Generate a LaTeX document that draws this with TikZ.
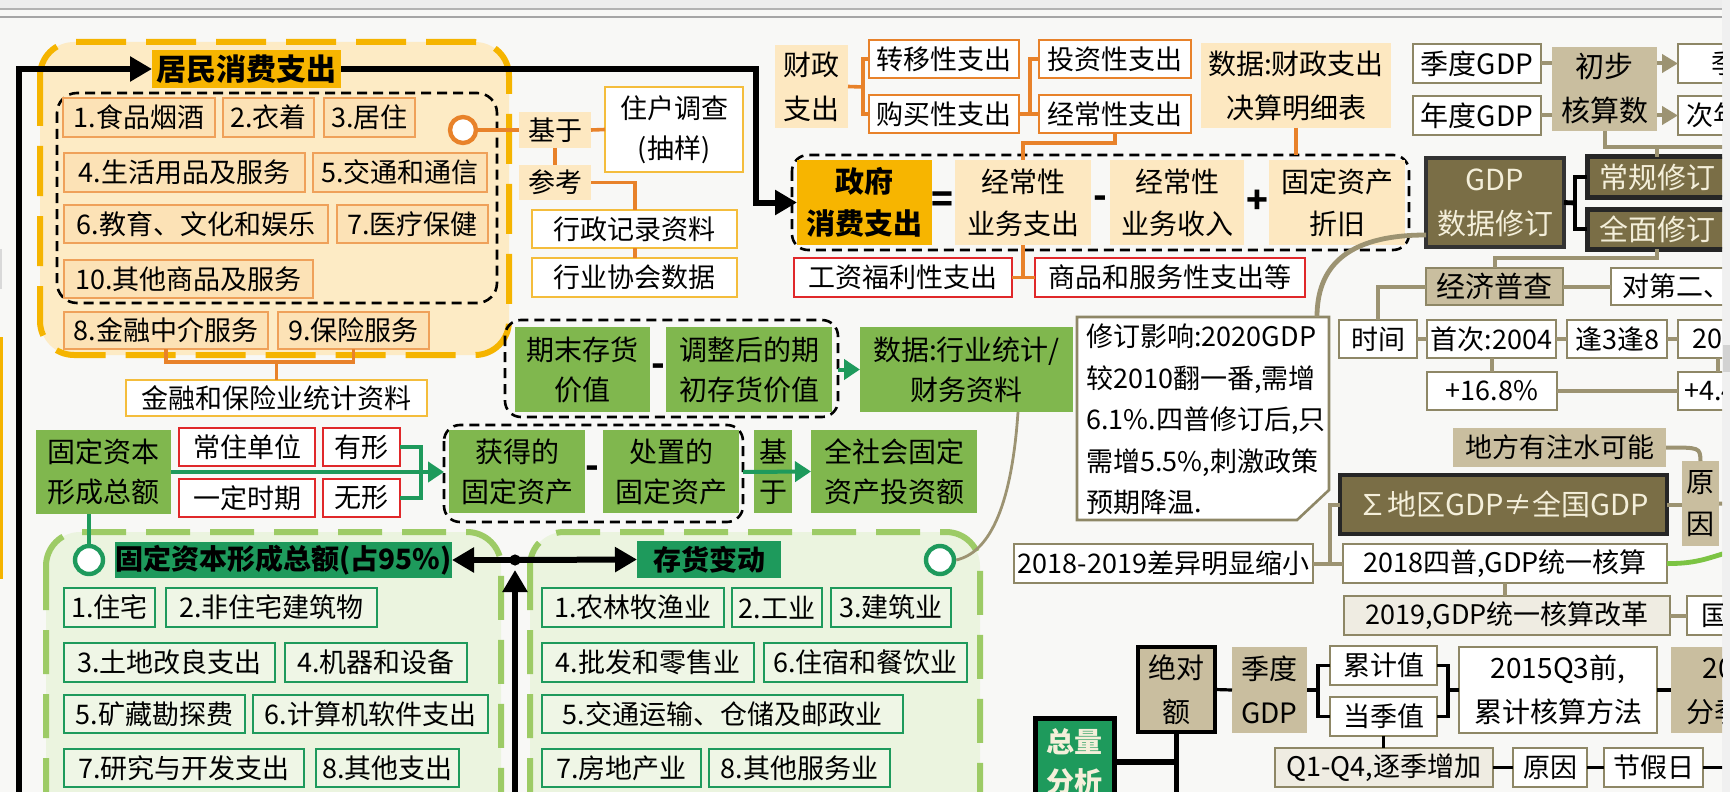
\documentclass[tikz,border=0pt]{standalone}
\usepackage{fontspec}
\setmainfont{Noto Sans CJK SC}
\usetikzlibrary{arrows.meta}
\definecolor{bgc}{HTML}{F8F8F6}
\definecolor{gold}{HTML}{F7B500}
\definecolor{odash}{HTML}{F5B400}
\definecolor{ocfill}{HTML}{FDEBC5}
\definecolor{ofill}{HTML}{FCE2B6}
\definecolor{oline}{HTML}{EFA15A}
\definecolor{oconn}{HTML}{E8822A}
\definecolor{yline}{HTML}{F4BD3C}
\definecolor{pfill}{HTML}{FDE8C1}
\definecolor{rline}{HTML}{E0282A}
\definecolor{gfill}{HTML}{80B74E}
\definecolor{gdash}{HTML}{9DCB66}
\definecolor{gcfill}{HTML}{EBF4DF}
\definecolor{igfill}{HTML}{EFF6E6}
\definecolor{teal1}{HTML}{1E9A5C}
\definecolor{olive1}{HTML}{8E8766}
\definecolor{kconn}{HTML}{9C9372}
\definecolor{tan1}{HTML}{C9BE9F}
\definecolor{ltan}{HTML}{EFECE2}
\definecolor{dolive}{HTML}{7A6E46}
\definecolor{cream}{HTML}{F4EFDA}
\definecolor{lgreen}{HTML}{7CC443}
\newcommand\Bx[7]{\node[#1,minimum width={(#5-#3)*0.5pt},minimum height={(#6-#4)*0.5pt}] (#2) at ({(#3+#5)/2},{(#4+#6)/2}) {#7};}
\tikzset{
 bx/.style={inner sep=0pt,outer sep=0pt,align=center,font=\fontsize{13.5}{20}\selectfont},
 io/.style={bx,fill=ofill,draw=oline,line width=1pt},
 lo/.style={bx,fill=gold,font=\bfseries\fontsize{15}{20}\selectfont},
 wy/.style={bx,fill=white,draw=yline,line width=1.1pt},
 wo/.style={bx,fill=white,draw=oconn,line width=1.2pt},
 po/.style={bx,fill=pfill},
 wr/.style={bx,fill=white,draw=rline,line width=1.2pt},
 gb/.style={bx,fill=gfill,font=\fontsize{14}{20}\selectfont},
 ig/.style={bx,fill=igfill,draw=teal1,line width=1.1pt},
 lg/.style={bx,fill=teal1,font=\bfseries\fontsize{14}{20}\selectfont},
 wk/.style={bx,fill=white,draw=olive1,line width=1.3pt},
 tk/.style={bx,fill=tan1},
 tkb/.style={tk,draw=olive1,line width=1.3pt},
 lk/.style={bx,fill=ltan,draw=olive1,line width=1.3pt},
 dk/.style={bx,fill=dolive,draw=black!85,line width=2.5pt,text=cream,font=\fontsize{14.5}{22}\selectfont},
 cut/.style={anchor=west,inner sep=0pt,font=\fontsize{13.5}{20}\selectfont},
 oc/.style={draw=oconn,line width=1.8pt},
 kc/.style={draw=kconn,line width=2pt},
 bk/.style={draw=black,line width=3pt},
 bt/.style={draw=black,line width=1.6pt},
 gc/.style={draw=teal1,line width=2pt},
 sg/.style={inner sep=0pt,font=\bfseries\fontsize{18}{18}\selectfont},
 kdash/.style={black,line width=1.3pt,dash pattern=on 5pt off 3pt},
 tipB/.style={-{Triangle[length=11pt,width=12pt]}},
 tipG/.style={-{Triangle[length=8pt,width=10pt]}},
 tipO/.style={-{Triangle[length=8pt,width=9pt]}},
}
\begin{document}
\begin{tikzpicture}[x=0.5pt,y=-0.5pt]
\useasboundingbox (0,0) rectangle (1730,792);
\fill[bgc] (0,0) rectangle (1730,792);
\fill[gray!12] (1722,0) rectangle (1730,792);
\fill[gray!35] (1723,345) rectangle (1730,372);
\begin{scope}
\clip (0,0) rectangle (1722,792);
\fill[gray!14] (0,0) rectangle (1722,9);
\draw[gray!60,line width=0.6pt] (0,9) -- (1722,9);
\draw[gray!70,line width=0.6pt] (0,17) -- (1722,17);
\fill[odash] (0,337) rectangle (3,579);
\fill[gray!30] (0,249) rectangle (2,289);
% containers
\draw[draw=odash,fill=ocfill,line width=3pt,dash pattern=on 25pt off 10pt,rounded corners=17pt] (40,42) rectangle (509,355);
\draw[kdash,rounded corners=10pt] (57,93) rectangle (497,303);
\draw[draw=gdash,fill=gcfill,line width=3pt,dash pattern=on 22pt off 10pt,rounded corners=17pt] (46,532) rectangle (501,860);
\draw[draw=gdash,fill=gcfill,line width=3pt,dash pattern=on 22pt off 10pt,rounded corners=17pt] (530,532) rectangle (980,860);
\draw[kdash,rounded corners=8pt] (792,155) rectangle (1409,250);
\draw[kdash,rounded corners=8pt] (505,320) rectangle (838,417);
\draw[kdash,rounded corners=8pt] (444,425) rectangle (743,522);
% household consumption
\Bx{lo}{jm}{152}{50}{341}{88}{居民消费支出}
\Bx{io}{a1}{63}{98}{215}{137}{1.食品烟酒}
\Bx{io}{a2}{223}{98}{314}{137}{2.衣着}
\Bx{io}{a3}{324}{98}{415}{137}{3.居住}
\Bx{io}{a4}{64}{153}{305}{192}{4.生活用品及服务}
\Bx{io}{a5}{313}{153}{487}{192}{5.交通和通信}
\Bx{io}{a6}{64}{205}{328}{243}{6.教育、文化和娱乐}
\Bx{io}{a7}{337}{205}{488}{243}{7.医疗保健}
\Bx{io}{a10}{64}{260}{313}{298}{10.其他商品及服务}
\Bx{io}{a8}{64}{312}{268}{349}{8.金融中介服务}
\Bx{io}{a9}{278}{312}{429}{349}{9.保险服务}
\Bx{wy}{jr}{126}{380}{427}{416}{金融和保险业统计资料}
\node[circle,draw=oconn,line width=2.2pt,fill=white,minimum size=13pt,inner sep=0pt] (oC) at (463,130) {};
\Bx{po}{jy}{519}{112}{591}{148}{基于}
\Bx{po}{ck}{519}{165}{591}{200}{参考}
\Bx{wy}{zh}{605}{87}{743}{172}{住户调查\\(抽样)}
\Bx{wy}{xz}{532}{210}{737}{248}{行政记录资料}
\Bx{wy}{hy}{532}{258}{737}{297}{行业协会数据}
% fiscal
\Bx{po,font=\fontsize{14}{22}\selectfont}{cz}{775}{45}{848}{128}{财政\\支出}
\Bx{wo}{zy}{869}{40}{1019}{78}{转移性支出}
\Bx{wo}{gm}{869}{95}{1019}{133}{购买性支出}
\Bx{wo}{tz}{1039}{40}{1191}{78}{投资性支出}
\Bx{wo}{jc}{1039}{95}{1191}{133}{经常性支出}
\Bx{po,font=\fontsize{14}{22}\selectfont}{sj}{1201}{43}{1391}{128}{数据:财政支出\\决算明细表}
\Bx{lo,font=\bfseries\fontsize{14.5}{21}\selectfont}{zf}{797}{160}{932}{245}{政府\\消费支出}
\node[sg] (s1) at (942,202) {=};
\Bx{po,font=\fontsize{14}{21}\selectfont}{jyz}{955}{160}{1091}{245}{经常性\\业务支出}
\node[sg] (s2) at (1100,202) {-};
\Bx{po,font=\fontsize{14}{21}\selectfont}{jys}{1110}{160}{1244}{245}{经常性\\业务收入}
\node[sg] (s3) at (1257,202) {+};
\Bx{po,font=\fontsize{14}{21}\selectfont}{gzj}{1269}{160}{1405}{245}{固定资产\\折旧}
\Bx{wr}{gz}{794}{258}{1012}{297}{工资福利性支出}
\Bx{wr}{sp}{1035}{258}{1305}{297}{商品和服务性支出等}
% inventory & fixed capital
\Bx{gb}{qm}{515}{327}{650}{412}{期末存货\\价值}
\node[sg] (s4) at (658,370) {-};
\Bx{gb}{tq}{666}{327}{832}{412}{调整后的期\\初存货价值}
\Bx{gb}{sjh}{860}{327}{1073}{412}{数据:行业统计/\\财务资料}
\Bx{gb}{gz1}{36}{430}{171}{514}{固定资本\\形成总额}
\Bx{wr}{cz1}{179}{428}{315}{466}{常住单位}
\Bx{wr}{ys}{179}{479}{315}{517}{一定时期}
\Bx{wr}{yx}{323}{428}{400}{466}{有形}
\Bx{wr}{wx}{323}{479}{400}{517}{无形}
\Bx{gb}{hd}{449}{430}{585}{513}{获得的\\固定资产}
\node[sg] (s5) at (592,472) {-};
\Bx{gb}{cq}{603}{430}{739}{513}{处置的\\固定资产}
\Bx{gb}{jy2}{754}{430}{792}{513}{基\\于}
\Bx{gb}{qs}{811}{430}{977}{513}{全社会固定\\资产投资额}
% green containers
\node[circle,draw=teal1,line width=2.2pt,fill=white,minimum size=14pt,inner sep=0pt] (cL) at (89,560) {};
\node[circle,draw=teal1,line width=2.2pt,fill=white,minimum size=14pt,inner sep=0pt] (cR) at (940,560) {};
\Bx{lg}{gl}{115}{542}{452}{578}{固定资本形成总额(占95\%)}
\Bx{lg}{ch}{637}{541}{781}{578}{存货变动}
\Bx{ig}{g1}{64}{588}{155}{627}{1.住宅}
\Bx{ig}{g2}{166}{588}{377}{627}{2.非住宅建筑物}
\Bx{ig}{g3}{64}{643}{275}{682}{3.土地改良支出}
\Bx{ig}{g4}{285}{643}{467}{682}{4.机器和设备}
\Bx{ig}{g5}{64}{695}{245}{733}{5.矿藏勘探费}
\Bx{ig}{g6}{253}{695}{488}{733}{6.计算机软件支出}
\Bx{ig}{g7}{64}{749}{304}{787}{7.研究与开发支出}
\Bx{ig}{g8}{316}{749}{459}{787}{8.其他支出}
\Bx{ig}{h1}{542}{588}{724}{627}{1.农林牧渔业}
\Bx{ig}{h2}{732}{588}{822}{627}{2.工业}
\Bx{ig}{h3}{831}{588}{951}{627}{3.建筑业}
\Bx{ig}{h4}{542}{643}{754}{682}{4.批发和零售业}
\Bx{ig}{h6}{764}{643}{967}{682}{6.住宿和餐饮业}
\Bx{ig}{h5}{542}{695}{903}{733}{5.交通运输、仓储及邮政业}
\Bx{ig}{h7}{542}{749}{701}{787}{7.房地产业}
\Bx{ig}{h8}{709}{749}{890}{787}{8.其他服务业}
% GDP part
\Bx{wk,font=\fontsize{14}{20}\selectfont}{jd}{1413}{44}{1541}{83}{季度GDP}
\Bx{wk,font=\fontsize{14}{20}\selectfont}{nd}{1413}{96}{1541}{135}{年度GDP}
\Bx{tk,font=\fontsize{14.5}{22}\selectfont}{cb}{1552}{47}{1657}{131}{初步\\核算数}
\Bx{wk}{q1}{1678}{44}{1760}{83}{}
\node[cut] (q1t) at (1711,63.5) {季度};
\Bx{wk}{q2}{1678}{96}{1760}{135}{}
\node[cut] (q2t) at (1686,115.5) {次年};
\Bx{dk,draw=black!80,line width=1.6pt}{gx}{1426}{158}{1564}{247}{GDP\\数据修订}
\Bx{dk}{cg}{1587}{157}{1727}{197}{常规修订}
\Bx{dk}{qm2}{1587}{209}{1727}{249}{全面修订}
\Bx{tkb,font=\fontsize{14.5}{20}\selectfont}{jj}{1426}{268}{1563}{305}{经济普查}
\Bx{wk}{dd}{1611}{268}{1760}{305}{}
\node[cut] (ddt) at (1622,286.5) {对第二、三产业};
\Bx{wk}{sj2}{1339}{320}{1417}{358}{时间}
\Bx{wk}{sc}{1427}{320}{1556}{358}{首次:2004}
\Bx{wk}{f38}{1567}{320}{1667}{358}{逢3逢8}
\Bx{wk}{e08}{1678}{320}{1760}{358}{}
\node[cut] (e08t) at (1692,339) {2008};
\Bx{wk}{p16}{1427}{372}{1557}{410}{+16.8\%}
\Bx{wk}{p44}{1678}{372}{1760}{410}{}
\node[cut] (p44t) at (1684,391) {+4.4\%};
\draw[fill=white,draw=olive1,line width=1.3pt] (1077,317) -- (1329,317) -- (1329,490) -- (1297,520) -- (1077,520) -- cycle;
\node[anchor=west,align=left,inner sep=0pt,font=\fontsize{13.5}{20.75}\selectfont] (xy) at (1086,419.5) {修订影响:2020GDP\\较2010翻一番,需增\\6.1\%.四普修订后,只\\需增5.5\%,刺激政策\\预期降温.};
\Bx{tk}{df}{1453}{428}{1666}{467}{地方有注水可能}
\Bx{tk,font=\fontsize{14}{21}\selectfont}{yy}{1682}{461}{1719}{546}{原\\因}
\Bx{dk,draw=black!85,line width=2pt,font=\fontsize{14.5}{20}\selectfont}{sd}{1340}{475}{1667}{534}{∑地区GDP≠全国GDP}
\Bx{wk}{cc}{1014}{544}{1313}{583}{2018-2019差异明显缩小}
\Bx{wk}{sp8}{1343}{544}{1667}{583}{2018四普,GDP统一核算}
\Bx{lk}{s19}{1344}{596}{1670}{635}{2019,GDP统一核算改革}
\Bx{wk}{gg}{1687}{596}{1760}{635}{}
\node[cut] (ggt) at (1701,615.5) {国家};
% bottom
\Bx{tk,draw=black,line width=2.2pt,font=\fontsize{14}{22}\selectfont}{jde}{1138}{647}{1215}{732}{绝对\\额}
\Bx{tk,font=\fontsize{14}{22}\selectfont}{jg}{1232}{647}{1307}{733}{季度\\GDP}
\Bx{wk}{lj}{1330}{646}{1437}{685}{累计值}
\Bx{wk}{dj}{1330}{697}{1437}{736}{当季值}
\Bx{wk,font=\fontsize{14}{22}\selectfont}{q3}{1459}{647}{1657}{733}{2015Q3前,\\累计核算方法}
\Bx{tk,font=\fontsize{14}{22}\selectfont}{q4}{1671}{647}{1869}{733}{2015Q3后,\\分季核算方法}
\Bx{lk}{qq}{1275}{748}{1493}{787}{Q1-Q4,逐季增加}
\Bx{wk}{yy2}{1513}{748}{1587}{787}{原因}
\Bx{wk}{jjr}{1604}{748}{1703}{787}{节假日}
\Bx{bx,fill=teal1,draw=black,line width=2.5pt,text=cream,font=\bfseries\fontsize{14}{20}\selectfont}{zl}{1035}{718}{1114}{806}{总量\\分析}
% ---------- connectors ----------
\coordinate (b0) at (19,800);
\coordinate (bd) at (756,136);
\draw[bk,tipB] (b0) |- (jm.west);
\draw[bk,tipB] (jm.east) -| (bd) |- (zf.west);
% orange
\coordinate (j5) at (276.5,362);
\draw[oc] (a8.south) |- (j5) -| (a9.south);
\draw[oc] (j5) -- (jr.north);
\draw[oc] (oC.east) -- (jy.west);
\draw[oc] (jy.south) -- (ck.north);
\draw[oc] (jy.east) -- (zh.west);
\coordinate (j4) at (635,210);
\draw[oc] (ck.east) -| (j4);
\draw[oc] (xz.south -| j4) -- (hy.north -| j4);
\coordinate (j1) at (863,87);
\draw[oc] (cz.east) -- (j1);
\draw[oc] (zy.west) -| (j1) |- (gm.west);
\coordinate (j2) at (1030,114);
\draw[oc] (gm.east) -- (j2);
\draw[oc] (tz.west) -| (j2) -- (jc.west);
\coordinate (j3) at (1115,143);
\draw[oc] (jc.south) -- (j3) -| (jyz.north);
\coordinate (j6) at (1296,155);
\draw[oc] (sj.south) -- (j6);
\draw[oc] (jyz.south) -- (jyz.south |- gz.east);
\draw[oc] (gz.east) -- (sp.west);
% teal
\coordinate (d1e) at (838,369.5);
\draw[gc,tipG] (d1e) -- (sjh.west);
\coordinate (d2w) at (444,472);
\coordinate (jt) at (421,472);
\draw[gc,tipG] (gz1.east) -- (d2w);
\draw[gc] (yx.east) -| (jt) |- (wx.east);
\coordinate (d2e) at (743,472);
\draw[gc,tipG] (d2e) -- (qs.west);
\draw[gc] (cL.north) -- (cL.north |- gz1.south);
% black junction
\coordinate (dot) at (515,560);
\coordinate (b1) at (515,800);
\draw[bk,tipB] (dot) -- (gl.east);
\draw[bk,tipB] (dot) -- (ch.west);
\draw[bk,tipB] (b1) -- ([yshift=-5pt]dot);
\fill (dot) circle[radius=2.8pt];
% olive
\coordinate (c1) at (1018,412);
\draw[kc,line width=1.4pt] (c1) .. controls (1012,500) and (992,552) .. (cR.east);
\draw[kc] (jd.east) -- (jd.east -| cb.west);
\draw[kc] (nd.east) -- (nd.east -| cb.west);
\draw[kc,tipO] (cb.east |- q1.west) -- (q1.west);
\draw[kc,tipO] (cb.east |- q2.west) -- (q2.west);
\coordinate (eR1) at (1740,147);
\draw[kc] (cb.south) |- (eR1);
\draw[kc] (cg.north |- eR1) -- (cg.north);
\coordinate (jx) at (1575,203);
\draw[bk,line width=2.4pt] (gx.east) -- (jx);
\draw[bk,line width=2.4pt] (cg.west) -| (jx) |- (qm2.west);
\coordinate (j7) at (1657,258);
\draw[kc] (qm2.south) -- (j7) -| (jj.north);
\draw[kc] (jj.east) -- (dd.west);
\draw[kc] (jj.west) -| (sj2.north);
\draw[kc] (sj2.east) -- (sc.west);
\draw[kc] (sc.east) -- (f38.west);
\draw[kc] (f38.east) -- (e08.west);
\draw[kc] (sc.south) -- (sc.south |- p16.north);
\draw[kc] (p16.east) -- (p44.west);
\draw[kc] ([xshift=20pt]e08.south west) -- ([xshift=20pt]p44.north west);
\coordinate (xyT) at (1317,317);
\draw[kc,line width=2.4pt] ([yshift=6pt]gx.south west) .. controls (1345,235) and (1317,268) .. (xyT);
\coordinate (jn) at (1330,563.5);
\draw[kc] (cc.east) -- (sp8.west);
\draw[kc] (sd.west) -| (jn);
\draw[kc] (sp8.south) -- (sp8.south |- s19.north);
\draw[kc] (s19.east) -- (gg.west);
\draw[kc] (df.east) .. controls (1700,447.5) .. (yy.north);
\draw[kc] (sd.east) -- (sd.east -| yy.west);
\coordinate (eR2) at (1740,504);
\draw[kc] (yy.east) -- (eR2);
\coordinate (eR3) at (1740,549);
\draw[draw=lgreen,line width=2.4pt] (sp8.east) .. controls (1700,564) and (1712,556) .. (eR3);
% bottom black
\draw[bt] (jde.east) -- (jg.west);
\coordinate (jb1) at (1318,690);
\draw[bt] (jg.east) -- (jb1);
\draw[bt] (lj.west) -| (jb1) |- (dj.west);
\coordinate (jb2) at (1448,690);
\draw[bt] (lj.east) -| (jb2) |- (dj.east);
\draw[bt] (jb2) -- (q3.west);
\draw[bt] (q3.east) -- (q4.west);
\draw[bt] (dj.south) -- (dj.south |- qq.north);
\draw[bt] (qq.east) -- (yy2.west);
\draw[bt] (yy2.east) -- (jjr.west);
\coordinate (eR4) at (1740,767.5);
\draw[bt] (jjr.east) -- (eR4);
\coordinate (eB) at (1176.5,800);
\draw[bk,line width=2.6pt] (jde.south) -- (eB);
\draw[bk,line width=2.6pt] (zl.east) -- (zl.east -| jde.south);
\end{scope}
\end{tikzpicture}
\end{document}
